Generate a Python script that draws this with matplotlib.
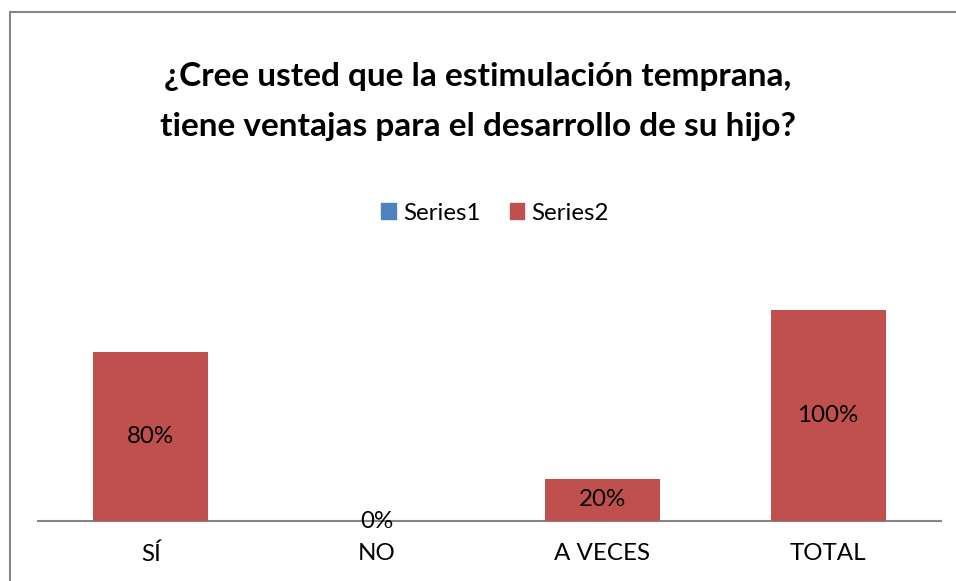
import matplotlib
matplotlib.use('Agg')
from matplotlib import pyplot as plt
from matplotlib.patches import Patch, Rectangle

plt.rcParams['font.family'] = ['Lato', 'DejaVu Sans']

categorias = ['SÍ', 'NO', 'A VECES', 'TOTAL']
series2 = [0.80, 0.00, 0.20, 1.00]
etiquetas = ['80%', '0%', '20%', '100%']

rojo = '#C0504D'
azul = '#4F81BD'

fig = plt.figure(figsize=(9.56, 5.81), dpi=100)
ax = fig.add_axes([38/956, 60/581, 903/956, 253.2/581])

x = range(len(categorias))
bars = ax.bar(x, series2, width=0.51, color=rojo, zorder=2)
for b, v, t in zip(bars, series2, etiquetas):
    ax.text(b.get_x() + b.get_width()/2, v/2, t, ha='center', va='center',
            fontsize=17.4, color='black', zorder=3)

ax.set_xlim(-0.5, 3.5)
ax.set_ylim(0, 1.2)
ax.set_xticks(list(x))
ax.set_xticklabels(categorias, fontsize=17.4)
ax.tick_params(axis='x', length=0, pad=16)
ax.set_yticks([])
for s in ['top', 'right', 'left']:
    ax.spines[s].set_visible(False)
ax.spines['bottom'].set_color('#868686')
ax.spines['bottom'].set_linewidth(1.5)
ax.spines['bottom'].set_zorder(1)

fig.text(0.5, 1 - 101.5/581,
         '¿Cree usted que la estimulación temprana,\ntiene ventajas para el desarrollo de su hijo?',
         ha='center', va='center', fontsize=24, fontweight='bold', linespacing=1.9)

handles = [Patch(color=azul, label='Series1'), Patch(color=rojo, label='Series2')]
fig.legend(handles=handles, loc='center', bbox_to_anchor=(495/956, 1 - 213/581),
           ncol=2, frameon=False, fontsize=17.4, handlelength=0.6, handleheight=0.6,
           handletextpad=0.3, columnspacing=1.2)

fig.patches.append(Rectangle((9.5/956, -0.1), 1.2, 1 - 12.5/581 + 0.1,
                             transform=fig.transFigure, fill=False,
                             edgecolor='#868686', linewidth=1.5))

fig.savefig('out.png', dpi=100)
